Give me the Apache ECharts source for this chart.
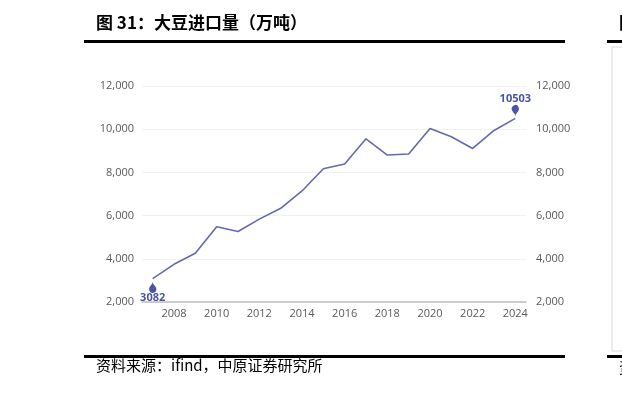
<!DOCTYPE html>
<html><head><meta charset="utf-8">
<script src="https://cdn.jsdelivr.net/npm/echarts@6/dist/echarts.min.js"></script>
<style>html,body{margin:0;padding:0;background:#fff}#c{width:622px;height:396px}</style>
</head><body><div id="c"></div>
<script>
const years = ['2007','2008','2009','2010','2011','2012','2013','2014','2015','2016','2017','2018','2019','2020','2021','2022','2023','2024'];
const imports = [3082,3744,4255,5480,5264,5838,6338,7140,8169,8391,9553,8803,8851,10033,9652,9108,9941,10503];
const yTicks = {min: 2000, max: 12000, interval: 2000};
const titleText = '图 31：大豆进口量（万吨）';
const sourceText = '资料来源：ifind，中原证券研究所';

const chart = echarts.init(document.getElementById('c'));
const axisLabelStyle = {color:'#595959', fontSize:11, fontFamily:'"Open Sans", "Noto Sans", sans-serif',
  formatter: v => Number(v).toLocaleString('en-US')};
const lastIdx = years.length - 1;
chart.setOption({
  animation:false,
  grid:{left:142, right:96, top:86, bottom:94},
  xAxis:{type:'category', data:years, boundaryGap:true,
    axisTick:{show:false},
    axisLine:{lineStyle:{color:'#bfbfbf', width:1.5}},
    axisLabel:{color:'#595959', fontSize:11, fontFamily:'"Open Sans", "Noto Sans", sans-serif', margin:6,
      interval:(i,v)=> Number(v)%2===0}},
  yAxis:[
    {type:'value', min:yTicks.min, max:yTicks.max, interval:yTicks.interval, position:'left',
     axisLabel:Object.assign({margin:8}, axisLabelStyle),
     splitLine:{lineStyle:{color:'#f2f2f2'}}, axisLine:{show:false}, axisTick:{show:false}},
    {type:'value', min:yTicks.min, max:yTicks.max, interval:yTicks.interval, position:'right',
     axisLabel:Object.assign({margin:10}, axisLabelStyle),
     splitLine:{show:false}, axisLine:{show:false}, axisTick:{show:false}}
  ],
  series:[{type:'line', data:imports, symbol:'none', lineStyle:{color:'#6469b0', width:1.6},
    markPoint:{
      symbol:'pin',
      itemStyle:{color:'#4b56a0'},
      label:{fontSize:11, fontWeight:'bold', color:'#4b56a0', fontFamily:'"Open Sans", sans-serif'},
      data:[
        {coord:[years[0], imports[0]], value:imports[0], symbolSize:[12,13], symbolRotate:180, symbolOffset:[0,3],
          label:{position:'bottom', distance:-1}},
        {coord:[years[lastIdx], imports[lastIdx]], value:imports[lastIdx], symbolSize:[12,13], symbolOffset:[0,-2],
          label:{position:'top', distance:1}}
      ]
    }
  }],
  graphic:[
    {type:'text', left:96, top:14, style:{text:titleText, fill:'#000',
      font:'bold 17px "Noto Sans CJK SC", sans-serif'}},
    {type:'rect', shape:{x:84, y:40, width:481, height:3}, style:{fill:'#000'}},
    {type:'rect', shape:{x:84, y:355, width:481, height:3}, style:{fill:'#000'}},
    {type:'text', left:96, top:358, style:{text:sourceText, fill:'#000',
      font:'15px "Noto Sans CJK SC", sans-serif'}},
    {type:'rect', shape:{x:607, y:40, width:15, height:3}, style:{fill:'#000'}},
    {type:'rect', shape:{x:607, y:355, width:15, height:3}, style:{fill:'#000'}},
    {type:'rect', shape:{x:612, y:47, width:20, height:304}, style:{fill:'#fff', stroke:'#d9d9d9', lineWidth:1}},
    {type:'text', x:619, y:14, style:{text:'图', fill:'#000', font:'bold 17px "Noto Sans CJK SC", sans-serif'}},
    {type:'text', x:619, y:360, style:{text:'资', fill:'#000', font:'15px "Noto Sans CJK SC", sans-serif'}}
  ]
});
</script></body></html>
